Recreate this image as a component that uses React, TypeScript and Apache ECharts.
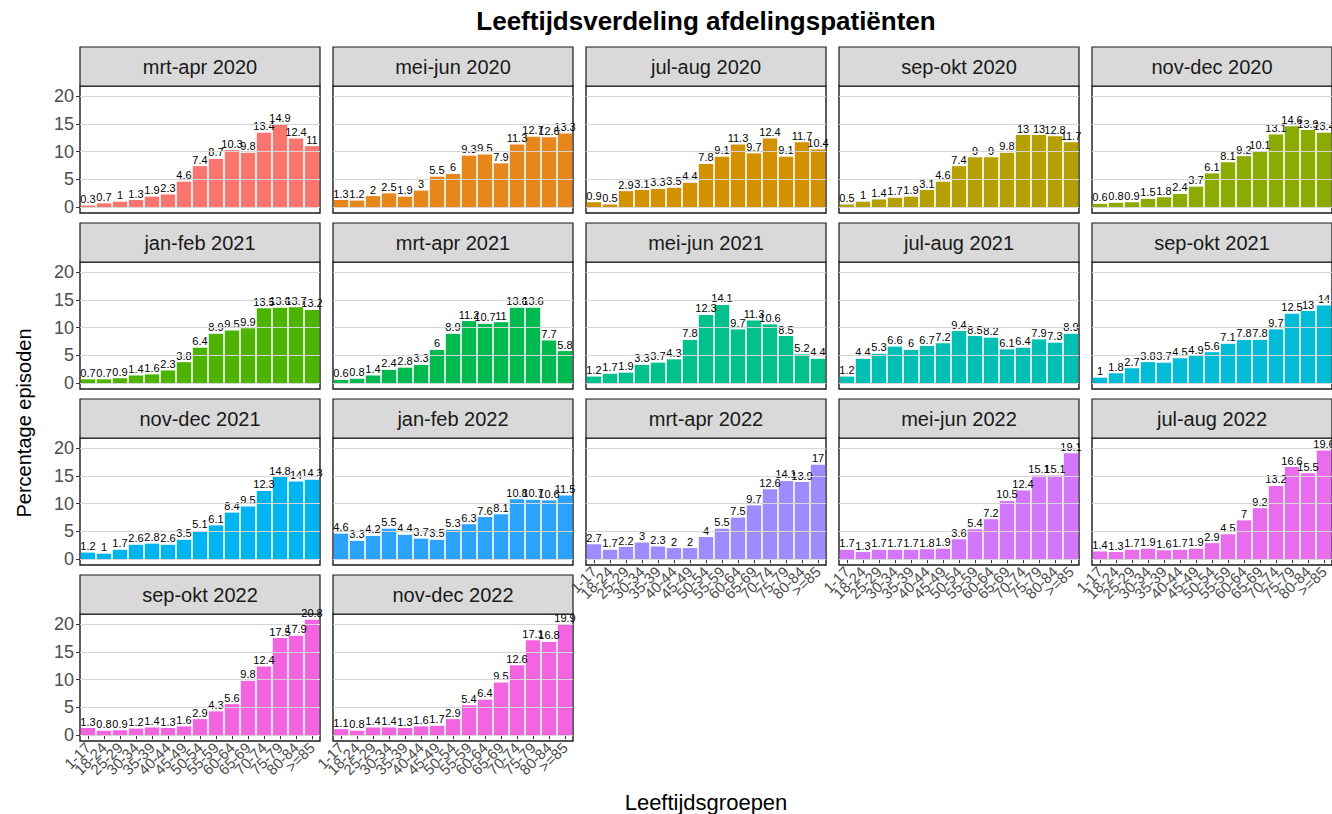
import React, { useEffect, useRef } from 'react';
import * as echarts from 'echarts';

const ageGroups = ['1-17', '18-24', '25-29', '30-34', '35-39', '40-44', '45-49', '50-54', '55-59', '60-64', '65-69', '70-74', '75-79', '80-84', '>=85'];

const periods = [
  'mrt-apr 2020', 'mei-jun 2020', 'jul-aug 2020', 'sep-okt 2020', 'nov-dec 2020',
  'jan-feb 2021', 'mrt-apr 2021', 'mei-jun 2021', 'jul-aug 2021', 'sep-okt 2021',
  'nov-dec 2021', 'jan-feb 2022', 'mrt-apr 2022', 'mei-jun 2022', 'jul-aug 2022',
  'sep-okt 2022', 'nov-dec 2022',
];

const mrtApr2020 = [0.3, 0.7, 1, 1.3, 1.9, 2.3, 4.6, 7.4, 8.7, 10.3, 9.8, 13.4, 14.9, 12.4, 11];
const meiJun2020 = [1.3, 1.2, 2, 2.5, 1.9, 3, 5.5, 6, 9.3, 9.5, 7.9, 11.3, 12.7, 12.6, 13.3];
const julAug2020 = [0.9, 0.5, 2.9, 3.1, 3.3, 3.5, 4.4, 7.8, 9.1, 11.3, 9.7, 12.4, 9.1, 11.7, 10.4];
const sepOkt2020 = [0.5, 1, 1.4, 1.7, 1.9, 3.1, 4.6, 7.4, 9, 9, 9.8, 13, 13, 12.8, 11.7];
const novDec2020 = [0.6, 0.8, 0.9, 1.5, 1.8, 2.4, 3.7, 6.1, 8.1, 9.2, 10.1, 13.1, 14.6, 13.9, 13.4];
const janFeb2021 = [0.7, 0.7, 0.9, 1.4, 1.6, 2.3, 3.8, 6.4, 8.9, 9.5, 9.9, 13.5, 13.6, 13.7, 13.2];
const mrtApr2021 = [0.6, 0.8, 1.4, 2.4, 2.8, 3.3, 6, 8.9, 11.2, 10.7, 11, 13.6, 13.6, 7.7, 5.8];
const meiJun2021 = [1.2, 1.7, 1.9, 3.3, 3.7, 4.3, 7.8, 12.3, 14.1, 9.7, 11.3, 10.6, 8.5, 5.2, 4.4];
const julAug2021 = [1.2, 4.4, 5.3, 6.6, 6, 6.7, 7.2, 9.4, 8.5, 8.2, 6.1, 6.4, 7.9, 7.3, 8.9];
const sepOkt2021 = [1, 1.8, 2.7, 3.8, 3.7, 4.5, 4.9, 5.6, 7.1, 7.8, 7.8, 9.7, 12.5, 13, 14];
const novDec2021 = [1.2, 1, 1.7, 2.6, 2.8, 2.6, 3.5, 5.1, 6.1, 8.4, 9.5, 12.3, 14.8, 14, 14.3];
const janFeb2022 = [4.6, 3.3, 4.2, 5.5, 4.4, 3.7, 3.5, 5.3, 6.3, 7.6, 8.1, 10.8, 10.7, 10.6, 11.5];
const mrtApr2022 = [2.7, 1.7, 2.2, 3, 2.3, 2, 2, 4, 5.5, 7.5, 9.7, 12.6, 14.1, 13.9, 17];
const meiJun2022 = [1.7, 1.3, 1.7, 1.7, 1.7, 1.8, 1.9, 3.6, 5.4, 7.2, 10.5, 12.4, 15.1, 15.1, 19.1];
const julAug2022 = [1.4, 1.3, 1.7, 1.9, 1.6, 1.7, 1.9, 2.9, 4.5, 7, 9.2, 13.2, 16.6, 15.5, 19.6];
const sepOkt2022 = [1.3, 0.8, 0.9, 1.2, 1.4, 1.3, 1.6, 2.9, 4.3, 5.6, 9.8, 12.4, 17.5, 17.9, 20.8];
const novDec2022 = [1.1, 0.8, 1.4, 1.4, 1.3, 1.6, 1.7, 2.9, 5.4, 6.4, 9.5, 12.6, 17.1, 16.8, 19.9];

const panelValues = [
  mrtApr2020, meiJun2020, julAug2020, sepOkt2020, novDec2020,
  janFeb2021, mrtApr2021, meiJun2021, julAug2021, sepOkt2021,
  novDec2021, janFeb2022, mrtApr2022, meiJun2022, julAug2022,
  sepOkt2022, novDec2022,
];

const panelColors = [
  '#F8766D', '#E6861B', '#D29200', '#B4A000', '#8CAB00',
  '#4CB400', '#00BA4F', '#00C08B', '#00C0B3', '#00BCD6',
  '#00B4EF', '#2CA2FF', '#9C8DFF', '#D277FA', '#E86CEC',
  '#F564E0', '#F564E0',
];

const yTicks = [0, 5, 10, 15, 20];

const FONT = '"Liberation Sans", Arial, sans-serif';

export default function App() {
  const ref = useRef<HTMLDivElement>(null);

  useEffect(() => {
    document.body.style.margin = '0';
    const chart = echarts.init(ref.current!, null, { renderer: 'svg' });

    const grids: any[] = [];
    const xAxes: any[] = [];
    const yAxes: any[] = [];
    const series: any[] = [];
    const graphics: any[] = [];

    const panelW = 240;
    const panelH = 127;
    const stripH = 39;

    periods.forEach((p, i) => {
      const c = i % 5;
      const r = Math.floor(i / 5);
      const left = 80 + 253 * c;
      const top = 86 + 176 * r;
      const bottomPanel = i + 5 >= periods.length;

      grids.push({
        left, top, width: panelW, height: panelH,
        show: true, borderColor: '#1a1a1a', borderWidth: 1.4, backgroundColor: '#ffffff',
      });
      xAxes.push({
        gridIndex: i, type: 'category', data: ageGroups,
        axisLine: { show: false },
        axisTick: { show: bottomPanel, length: 4, alignWithLabel: true, lineStyle: { color: '#333' } },
        axisLabel: { show: bottomPanel, rotate: 45, interval: 0, fontSize: 15, color: '#4d4d4d', margin: 4, fontFamily: FONT },
        splitLine: { show: false },
      });
      yAxes.push({
        gridIndex: i, type: 'value', min: -1.04, max: 21.84,
        axisLine: { show: false },
        axisTick: { show: c === 0, length: 4, customValues: yTicks, lineStyle: { color: '#333' } },
        axisLabel: { show: c === 0, customValues: yTicks, fontSize: 18, color: '#4d4d4d', margin: 6, fontFamily: FONT },
        splitLine: { show: false },
      });
      series.push({
        type: 'line', xAxisIndex: i, yAxisIndex: i, data: ageGroups.map(() => null),
        symbol: 'none', silent: true, z: 1,
        markLine: {
          silent: true, symbol: 'none', label: { show: false },
          lineStyle: { color: '#d6d6d6', width: 1.2, type: 'solid' },
          data: yTicks.map((y) => ({ yAxis: y })),
        },
      });
      series.push({
        type: 'bar', xAxisIndex: i, yAxisIndex: i, data: panelValues[i],
        barCategoryGap: '10%', z: 2,
        itemStyle: { color: panelColors[i] },
        label: { show: true, position: 'top', distance: 1, fontSize: 11, color: '#000', fontFamily: FONT },
      });
      graphics.push({
        type: 'rect', shape: { x: left, y: top - stripH, width: panelW, height: stripH },
        style: { fill: '#d9d9d9', stroke: '#1a1a1a', lineWidth: 1.2 },
      });
      graphics.push({
        type: 'text', x: left + panelW / 2, y: top - stripH / 2,
        style: { text: p, fontSize: 20, fontFamily: FONT, fill: '#1a1a1a', align: 'center', verticalAlign: 'middle' },
      });
    });

    graphics.push({
      type: 'text', x: 706, y: 21,
      style: { text: 'Leeftijdsverdeling afdelingspatiënten', fontSize: 26, fontWeight: 'bold', fontFamily: FONT, fill: '#000', align: 'center', verticalAlign: 'middle' },
    });
    graphics.push({
      type: 'text', x: 706, y: 802,
      style: { text: 'Leeftijdsgroepen', fontSize: 22, fontFamily: FONT, fill: '#000', align: 'center', verticalAlign: 'middle' },
    });
    graphics.push({
      type: 'text', x: 24, y: 423, rotation: Math.PI / 2,
      style: { text: 'Percentage episoden', fontSize: 20, fontFamily: FONT, fill: '#000', align: 'center', verticalAlign: 'middle' },
    });

    chart.setOption({
      animation: false,
      backgroundColor: '#ffffff',
      grid: grids,
      xAxis: xAxes,
      yAxis: yAxes,
      series,
      graphic: graphics,
    });

    return () => chart.dispose();
  }, []);

  return <div ref={ref} style={{ width: 1332, height: 814 }} />;
}
